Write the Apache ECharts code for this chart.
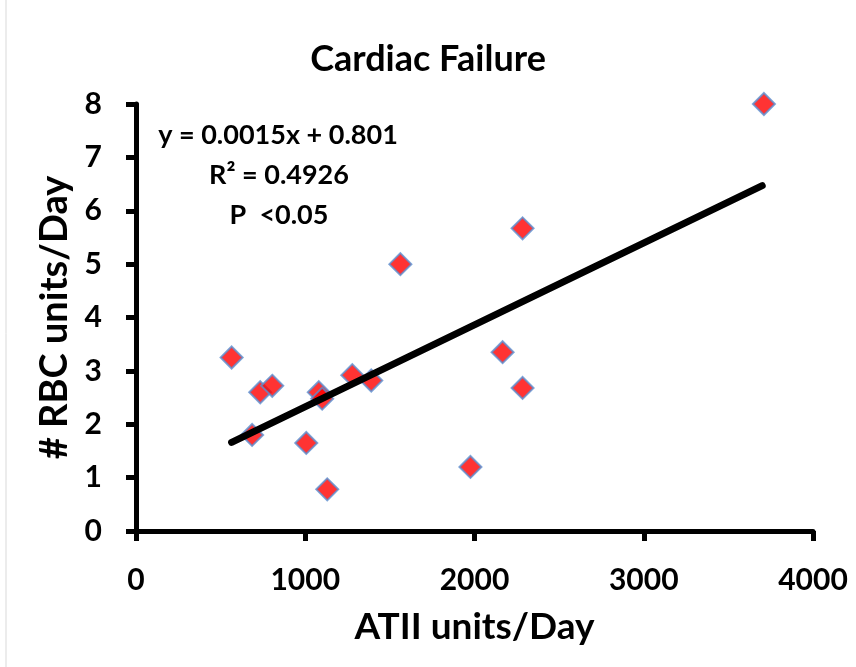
<!DOCTYPE html>
<html>
<head>
<meta charset="utf-8">
<title>Cardiac Failure</title>
<script src="https://cdn.jsdelivr.net/npm/echarts@6/dist/echarts.min.js"></script>
<style>
    html, body { margin: 0; padding: 0; background: #fff; }
    #chart { width: 856px; height: 667px; }
</style>
</head>
<body>
<div id="chart"></div>
<script>
    // ATII units/Day vs # RBC units/Day
    const atii = [565, 686, 734, 805, 1006, 1080, 1100, 1130, 1278, 1390, 1562, 1976, 2166, 2284, 2284, 3710];
    const rbc = [3.25, 1.8, 2.6, 2.72, 1.65, 2.6, 2.48, 0.78, 2.92, 2.82, 5.0, 1.2, 3.35, 2.68, 5.67, 8.0];
    // trendline end points
    const trendX = [565, 3700];
    const trendY = [1.66, 6.47];
    const xTicks = [0, 1000, 2000, 3000, 4000];
    const yTicks = [0, 1, 2, 3, 4, 5, 6, 7, 8];
    const eqLines = ['y = 0.0015x + 0.801', 'R² = 0.4926', 'P  <0.05'];

    const font = 'Lato, "Open Sans", sans-serif';
    const chart = echarts.init(document.getElementById('chart'));

    const option = {
        backgroundColor: '#fff',
        animation: false,
        title: {
            text: 'Cardiac Failure',
            left: 'center',
            top: 36,
            textStyle: { fontFamily: font, fontWeight: 'bold', fontSize: 36, color: '#000' }
        },
        grid: { left: 136, right: 43, top: 104, bottom: 136 },
        xAxis: {
            type: 'value',
            min: xTicks[0],
            max: xTicks[xTicks.length - 1],
            interval: 1000,
            name: 'ATII units/Day',
            nameLocation: 'middle',
            nameGap: 78,
            nameTextStyle: { fontFamily: font, fontWeight: 'bold', fontSize: 37, color: '#000' },
            axisLine: { lineStyle: { color: '#000', width: 5 } },
            axisTick: { show: true, length: 10, lineStyle: { color: '#000', width: 5 } },
            axisLabel: {
                margin: 34, fontFamily: font, fontWeight: 'bold', fontSize: 30, color: '#000',
                formatter: v => String(v)
            },
            splitLine: { show: false }
        },
        yAxis: {
            type: 'value',
            min: yTicks[0],
            max: yTicks[yTicks.length - 1],
            interval: 1,
            name: '# RBC units/Day',
            nameLocation: 'middle',
            nameGap: 62,
            nameTextStyle: { fontFamily: font, fontWeight: 'bold', fontSize: 38, color: '#000' },
            axisLine: { lineStyle: { color: '#000', width: 5 } },
            axisTick: { show: true, length: 10, lineStyle: { color: '#000', width: 5 } },
            axisLabel: { margin: 34, fontFamily: font, fontWeight: 'bold', fontSize: 30, color: '#000' },
            splitLine: { show: false }
        },
        series: [
            {
                type: 'line',
                data: trendX.map((x, i) => [x, trendY[i]]),
                symbol: 'none',
                lineStyle: { color: '#000', width: 7, cap: 'round' },
                z: 3
            },
            {
                type: 'scatter',
                data: atii.map((x, i) => [x, rbc[i]]),
                symbol: 'diamond',
                symbolSize: 22,
                itemStyle: { color: '#ff0000', borderColor: '#5b8fd0', borderWidth: 2 },
                z: 2
            }
        ],
        graphic: [
            {
                type: 'line',
                shape: { x1: 6, y1: 0, x2: 6, y2: 667 },
                style: { stroke: '#d9d9d9', lineWidth: 1 }
            },
            {
                type: 'text',
                x: 278, y: 135,
                style: { text: eqLines[0], align: 'center', verticalAlign: 'middle', font: 'bold 27px ' + font, fill: '#000' }
            },
            {
                type: 'text',
                x: 279, y: 175,
                style: { text: eqLines[1], align: 'center', verticalAlign: 'middle', font: 'bold 27px ' + font, fill: '#000' }
            },
            {
                type: 'text',
                x: 279, y: 215,
                style: { text: eqLines[2], align: 'center', verticalAlign: 'middle', font: 'bold 27px ' + font, fill: '#000' }
            }
        ]
    };
    chart.setOption(option);
</script>
</body>
</html>
